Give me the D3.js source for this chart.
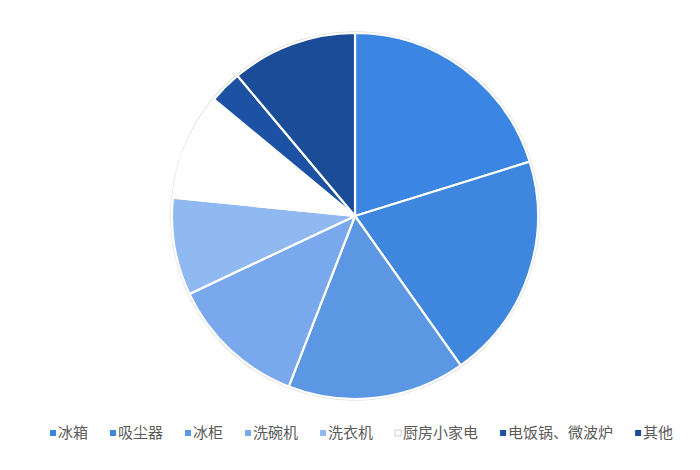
<!DOCTYPE html>
<html>
<head>
<meta charset="utf-8">
<script src="https://cdn.jsdelivr.net/npm/d3@7"></script>
<style>
  body { margin: 0; background: #fff; }
  svg { display: block; font-family: "Noto Sans CJK SC", "Noto Sans", sans-serif; }
</style>
</head>
<body>
<div id="chart"></div>
<script>
// Data
const categories = ["冰箱", "吸尘器", "冰柜", "洗碗机", "洗衣机", "厨房小家电", "电饭锅、微波炉", "其他"];
const values = [20.2, 20.0, 15.7, 12.1, 8.6, 9.4, 2.9, 11.1];
const colors = ["#3a86e2", "#3f87de", "#5c97e4", "#79a9ec", "#8fb9f0", "#ffffff", "#1c51a3", "#1b4c97"];

const width = 700;
const height = 470;
const cx = 355, cy = 216, radius = 183;

const svg = d3
  .select("#chart")
  .append("svg")
  .attr("width", width)
  .attr("height", height);

const data = categories.map((c, i) => ({ name: c, value: values[i], color: colors[i] }));

const pie = d3.pie().sort(null).value((d) => d.value);
const arc = d3.arc().innerRadius(0).outerRadius(radius);

const g = svg.append("g").attr("transform", `translate(${cx}, ${cy})`);

// Outer border
g.append("circle")
  .attr("r", radius + 1)
  .attr("fill", "none")
  .attr("stroke", "#dcdcdc")
  .attr("stroke-width", 1.5);

g.selectAll("path")
  .data(pie(data))
  .enter()
  .append("path")
  .attr("d", arc)
  .attr("fill", (d) => d.data.color)
  .attr("stroke", "#ffffff")
  .attr("stroke-width", 2.2)
  .attr("stroke-linejoin", "round");

// Legend
const legend = svg.append("g").attr("transform", "translate(50, 433)");
const fontSize = 15;
let x = 0;
data.forEach((d) => {
  const item = legend.append("g").attr("transform", `translate(${x}, 0)`);
  item.append("rect")
    .attr("x", 0)
    .attr("y", -3)
    .attr("width", 6)
    .attr("height", 6)
    .attr("fill", d.color)
    .attr("stroke", d.color === "#ffffff" ? "#cfcfcf" : "none")
    .attr("stroke-width", 1);
  const t = item.append("text")
    .attr("x", 8)
    .attr("y", 0)
    .attr("dy", "0.36em")
    .style("font-size", fontSize + "px")
    .style("fill", "#5a5a5a")
    .text(d.name);
  const w = t.node().getComputedTextLength();
  x += 8 + w + 22;
});
</script>
</body>
</html>
